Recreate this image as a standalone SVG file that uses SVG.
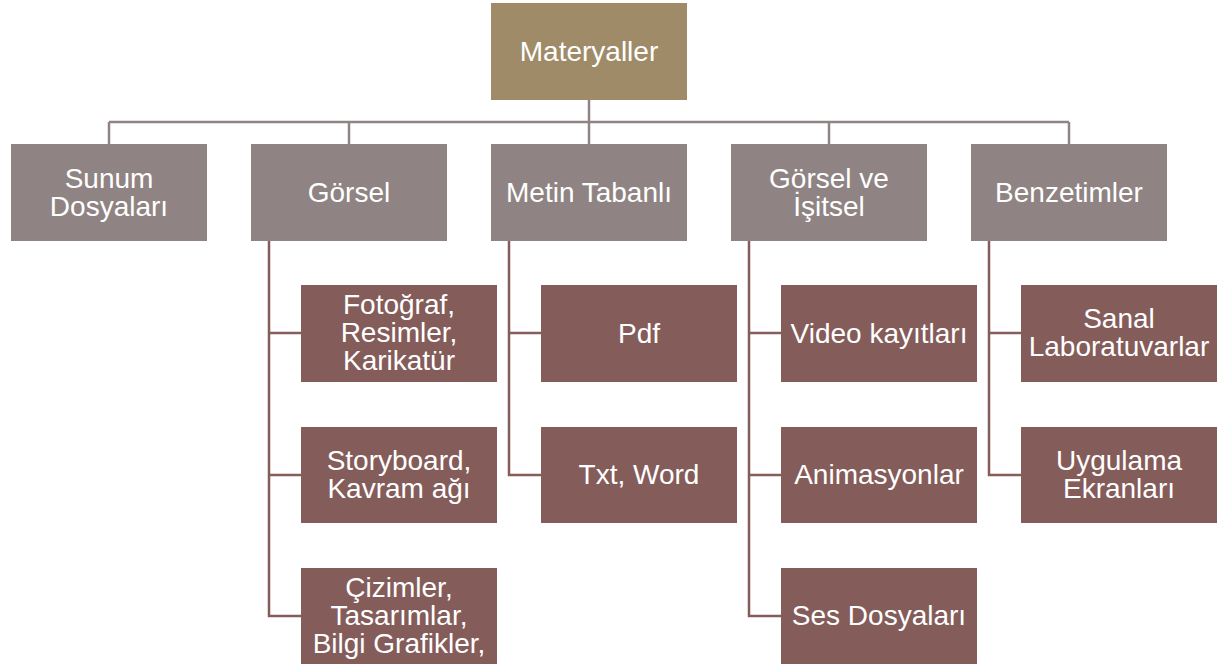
<svg xmlns="http://www.w3.org/2000/svg" width="1219" height="666" viewBox="0 0 1219 666">
<style>
text{font-family:"Liberation Sans",Arial,sans-serif;font-size:28px;fill:#fff;text-anchor:middle}
.top{fill:#A08B69}
.l2{fill:#8F8483}
.l3{fill:#845C5A}
.bus{stroke:#8F8483;stroke-width:2.5;fill:none}
.br{stroke:#845C5A;stroke-width:2.5;fill:none}
</style>
<rect width="1219" height="666" fill="#fff"/>
<g id="connectors">
<path class="bus" d="M589 100V122M109 122H1069M109 122V144M349 122V144M829 122V144M1069 122V144M589 122V144"/>
<path class="br" d="M269 241V616H301M269 333H301M269 475H301"/>
<path class="br" d="M509 241V475H541M509 333H541"/>
<path class="br" d="M749 241V616H781M749 333H781M749 475H781"/>
<path class="br" d="M989 241V475H1021M989 333H1021"/>
</g>
<g id="materyaller"><rect class="top" x="491" y="3" width="196" height="97"/><text x="589" y="61">Materyaller</text></g>
<g id="sunum"><rect class="l2" x="11" y="144" width="196" height="97"/><text x="109" y="188">Sunum</text><text x="109" y="216">Dosyaları</text></g>
<g id="gorsel"><rect class="l2" x="251" y="144" width="196" height="97"/><text x="349" y="202">Görsel</text></g>
<g id="metin"><rect class="l2" x="491" y="144" width="196" height="97"/><text x="589" y="202">Metin Tabanlı</text></g>
<g id="gorsel-isitsel"><rect class="l2" x="731" y="144" width="196" height="97"/><text x="829" y="188">Görsel ve</text><text x="829" y="216">İşitsel</text></g>
<g id="benzetimler"><rect class="l2" x="971" y="144" width="196" height="97"/><text x="1069" y="202">Benzetimler</text></g>
<g id="fotograf"><rect class="l3" x="301" y="285" width="196" height="97"/><text x="399" y="314">Fotoğraf,</text><text x="399" y="342">Resimler,</text><text x="399" y="370">Karikatür</text></g>
<g id="storyboard"><rect class="l3" x="301" y="427" width="196" height="96"/><text x="399" y="470">Storyboard,</text><text x="399" y="498">Kavram ağı</text></g>
<g id="cizimler"><rect class="l3" x="301" y="568" width="196" height="96"/><text x="399" y="597">Çizimler,</text><text x="399" y="625">Tasarımlar,</text><text x="399" y="653">Bilgi Grafikler,</text></g>
<g id="pdf"><rect class="l3" x="541" y="285" width="196" height="97"/><text x="639" y="343">Pdf</text></g>
<g id="txt"><rect class="l3" x="541" y="427" width="196" height="96"/><text x="639" y="484">Txt, Word</text></g>
<g id="video"><rect class="l3" x="781" y="285" width="196" height="97"/><text x="879" y="343">Video kayıtları</text></g>
<g id="animasyon"><rect class="l3" x="781" y="427" width="196" height="96"/><text x="879" y="484">Animasyonlar</text></g>
<g id="ses"><rect class="l3" x="781" y="568" width="196" height="96"/><text x="879" y="625">Ses Dosyaları</text></g>
<g id="sanal"><rect class="l3" x="1021" y="285" width="196" height="97"/><text x="1119" y="328">Sanal</text><text x="1119" y="356">Laboratuvarlar</text></g>
<g id="uygulama"><rect class="l3" x="1021" y="427" width="196" height="96"/><text x="1119" y="470">Uygulama</text><text x="1119" y="498">Ekranları</text></g>
</svg>
